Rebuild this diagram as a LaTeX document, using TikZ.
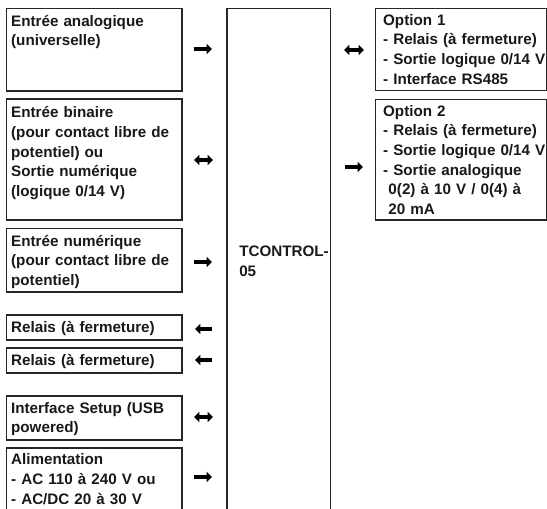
\documentclass[tikz,border=0pt]{standalone}
\usepackage{fontspec}
\setmainfont{Liberation Sans}
\usetikzlibrary{arrows.meta,fit}
\begin{document}
\begin{tikzpicture}[x=0.75pt,y=-0.75pt,
  box/.style={draw=black!85, line width=0.9pt, inner sep=0pt},
  txt/.style={anchor=base west, inner sep=0pt, align=left, text width=220pt,
    font=\fontsize{11.4pt}{14.7pt}\selectfont\bfseries, text=black!90},
  tip/.style={Triangle[length=4pt,width=7.5pt]},
  rarr/.style={line width=3pt, -{Triangle[length=4pt,width=7.5pt]}},
  larr/.style={line width=3pt, {Triangle[length=4pt,width=7.5pt]}-},
  barr/.style={line width=3pt, {Triangle[length=4pt,width=7.5pt]}-{Triangle[length=4pt,width=7.5pt]}}]
\path[use as bounding box, fill=white] (0,0) rectangle (547,509);
\clip (0,0) rectangle (547,509);

% left boxes
\node[box, fit={(6.5,8.5) (182,91)}] (l1) {};
\node[box, fit={(6.5,99) (182,220)}] (l2) {};
\node[box, fit={(6.5,228.5) (182,292)}] (l3) {};
\node[box, fit={(6.5,315) (182,340)}] (l4) {};
\node[box, fit={(6.5,348) (182,373)}] (l5) {};
\node[box, fit={(6.5,396) (182,440)}] (l6) {};
\node[box, fit={(6.5,448) (182,530)}] (l7) {};
% centre
\node[box, fit={(227,8.5) (330.5,530)}] (c) {};
% right boxes
\node[box, fit={(375.5,8.5) (546.5,90.5)}] (r1) {};
\node[box, fit={(375.5,99.5) (546.5,220)}] (r2) {};

% texts
\node[txt] (t1) at ([shift={(5,18.5)}]l1.north west) {Entrée analogique\\(universelle)};
\node[txt] (t2) at ([shift={(5,19.5)}]l2.north west) {Entrée binaire\\(pour contact libre de\\potentiel) ou\\Sortie numérique\\(logique 0/14 V)};
\node[txt] (t3) at ([shift={(5,18.5)}]l3.north west) {Entrée numérique\\(pour contact libre de\\potentiel)};
\node[txt] (t4) at ([shift={(5,18)}]l4.north west) {Relais (à fermeture)};
\node[txt] (t5) at ([shift={(5,18)}]l5.north west) {Relais (à fermeture)};
\node[txt] (t6) at ([shift={(5,18)}]l6.north west) {Interface Setup (USB\\powered)};
\node[txt] (t7) at ([shift={(5,17.5)}]l7.north west) {Alimentation\\- AC 110 à 240 V ou\\- AC/DC 20 à 30 V};
\node[txt] (tc) at (239,257) {TCONTROL-\\05};
\node[txt] (tr1) at ([shift={(8,17.5)}]r1.north west) {Option 1\\- Relais (à fermeture)\\- Sortie logique 0/14 V\\- Interface RS485};
\node[txt] (tr2) at ([shift={(8,17.5)}]r2.north west) {Option 2\\- Relais (à fermeture)\\- Sortie logique 0/14 V\\- Sortie analogique\\\hspace*{0.35em}0(2) à 10 V / 0(4) à\\\hspace*{0.35em}20 mA};

% arrows
\coordinate (a1s) at (194,49);  \coordinate (a1e) at (212,49);
\coordinate (a2s) at (194,160); \coordinate (a2e) at (213,160);
\coordinate (a3s) at (194,262); \coordinate (a3e) at (212,262);
\coordinate (a4s) at (195,329); \coordinate (a4e) at (212,329);
\coordinate (a5s) at (195,360); \coordinate (a5e) at (212,360);
\coordinate (a6s) at (194,417); \coordinate (a6e) at (213,417);
\coordinate (a7s) at (194,477); \coordinate (a7e) at (212,477);
\coordinate (b1s) at (344,50);  \coordinate (b1e) at (364,50);
\coordinate (b2s) at (345,167); \coordinate (b2e) at (363,167);
\draw[rarr] (a1s) -- (a1e);
\draw[barr] (a2s) -- (a2e);
\draw[rarr] (a3s) -- (a3e);
\draw[larr] (a4s) -- (a4e);
\draw[larr] (a5s) -- (a5e);
\draw[barr] (a6s) -- (a6e);
\draw[rarr] (a7s) -- (a7e);
\draw[barr] (b1s) -- (b1e);
\draw[rarr] (b2s) -- (b2e);
\end{tikzpicture}
\end{document}
